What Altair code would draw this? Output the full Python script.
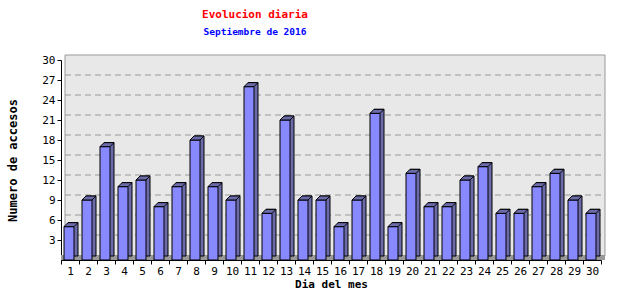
import altair as alt
import pandas as pd

days = [str(d) for d in range(1, 31)]
visits = [5, 9, 17, 11, 12, 8, 11, 18, 11, 9, 26, 7, 21, 9, 9, 5, 9, 22, 5, 13,
          8, 8, 12, 14, 7, 7, 11, 13, 9, 7]
y_tick_values = [3, 6, 9, 12, 15, 18, 21, 24, 27, 30]
grid_values = [3, 6, 9, 12, 15, 18, 21, 24, 27]

W, H = 540, 200
DEPTH = 4
MONO = "DejaVu Sans Mono"
SIDE = "#6b6baa"

df = pd.DataFrame({"dia": days, "accesos": visits})
grid_df = pd.DataFrame({"v": grid_values})
one = pd.DataFrame({"a": [0]})

y_scale = alt.Scale(domain=[0, 30], nice=False, zero=True)
y_axis = alt.Axis(title="Numero de accesos", values=y_tick_values, grid=False,
                  tickSize=4, labelPadding=2, titlePadding=22,
                  labelOverlap=False, labelFlush=False, titleFontSize=12)

x_enc = alt.X(
    "dia:O", sort=None,
    scale=alt.Scale(paddingInner=0, paddingOuter=0),
    axis=alt.Axis(title="Dia del mes", labelAngle=0, tickBand="extent",
                  tickSize=4, labelPadding=1, titlePadding=2),
)
y_enc = alt.Y("accesos:Q", scale=y_scale, axis=y_axis)

background = alt.Chart(one).mark_rect(fill="#e8e8e8", stroke="#999999", strokeWidth=1).encode(
    x=alt.value(DEPTH), x2=alt.value(W + DEPTH), y=alt.value(-DEPTH - 1), y2=alt.value(H - DEPTH)
)
floor = alt.Chart(one).mark_rect(fill="#999999").encode(
    x=alt.value(0), x2=alt.value(W + DEPTH), y=alt.value(H - DEPTH - 1), y2=alt.value(H)
)
grid = alt.Chart(grid_df).mark_rule(color="#999999", strokeDash=[6, 4], strokeWidth=1,
                                    yOffset=-DEPTH - 1).encode(
    y=alt.Y("v:Q", scale=y_scale, axis=y_axis),
    x=alt.value(DEPTH), x2=alt.value(W + DEPTH),
)
side = alt.Chart(df).mark_bar(color=SIDE, stroke="black", strokeWidth=1, size=10,
                              xOffset=-1 + DEPTH, yOffset=-DEPTH).encode(x=x_enc, y=y_enc)
front = alt.Chart(df).mark_bar(color="#8888ff", stroke="black", strokeWidth=1, size=10,
                               xOffset=-1).encode(x=x_enc, y=y_enc)
top = alt.Chart(df).mark_point(
    shape="M-0.6,0L0.4,0L0.8,-0.4L-0.2,-0.4Z", size=400, filled=True,
    fill=SIDE, stroke="black", strokeWidth=1, opacity=1, fillOpacity=1,
).encode(x=x_enc, y=y_enc)

chart = alt.layer(background, floor, grid, side, front, top).properties(
    width=W, height=H,
    autosize=alt.AutoSizeParams(type="none"),
    padding={"left": 61, "top": 60, "right": 39, "bottom": 40},
    title=alt.Title(
        "Evolucion diaria", subtitle="Septiembre de 2016",
        color="red", subtitleColor="blue",
        font=MONO, fontSize=11, fontWeight="bold",
        subtitleFont=MONO, subtitleFontSize=9.5, subtitleFontWeight="bold",
        anchor="middle", dx=-76, offset=18, subtitlePadding=7,
    ),
).configure_view(stroke=None, fill=None).configure_axis(
    domainColor="black", tickColor="black", labelColor="black",
    labelFont=MONO, labelFontSize=11, titleFont=MONO, titleFontSize=11,
    titleFontWeight="bold", titleColor="black",
)

chart.save("out.html", embed_options={"renderer": "svg", "actions": False})
